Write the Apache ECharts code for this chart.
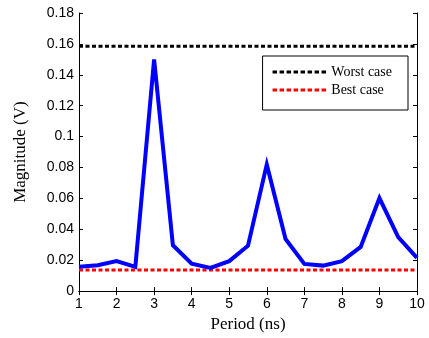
<!DOCTYPE html>
<html>
<head>
<meta charset="utf-8">
<script src="https://cdn.jsdelivr.net/npm/echarts@6/dist/echarts.min.js"></script>
<style>
  html, body { margin: 0; padding: 0; background: #fff; }
  #chart { width: 429px; height: 338px; }
</style>
</head>
<body>
<div id="chart"></div>
<script>
const periods = [1, 1.5, 2, 2.5, 3, 3.5, 4, 4.5, 5, 5.5, 6, 6.5, 7, 7.5, 8, 8.5, 9, 9.5, 10]
const magnitude = [0.0157, 0.0168, 0.0194, 0.0157, 0.150, 0.0297, 0.0178, 0.0150, 0.0194, 0.0294,
  0.082, 0.0337, 0.0176, 0.0165, 0.0194, 0.0286, 0.0602, 0.0350, 0.0215]
const boundX = [1, 10]
const worstCase = [0.1585, 0.1585]
const bestCase = [0.0137, 0.0137]
const yTicks = ['0', '0.02', '0.04', '0.06', '0.08', '0.1', '0.12', '0.14', '0.16', '0.18']

const pairs = (xs, ys) => xs.map((x, i) => [x, ys[i]])

// dashed legend icon: 8 short dashes
let dashPath = 'path://'
for (let i = 0; i < 8; i++) dashPath += `M${i * 7},0h4.5v3h-4.5z`

const chart = echarts.init(document.getElementById('chart'), null, { renderer: 'canvas' })

const tickFont = { fontFamily: 'Liberation Sans, Arial, sans-serif', fontSize: 14, color: '#000' }
const serif = 'Liberation Serif, Times New Roman, serif'
const axisLine = { show: true, lineStyle: { color: '#000', width: 1 } }
const axisTick = { show: true, inside: true, length: 4, lineStyle: { color: '#000', width: 1 } }

const option = {
  animation: false,
  grid: { left: 79, right: 12, top: 13, bottom: 46 },
  legend: {
    right: 21,
    top: 56,
    orient: 'vertical',
    data: [
      { name: 'Worst case', icon: dashPath, itemStyle: { color: '#000' } },
      { name: 'Best case', icon: dashPath, itemStyle: { color: '#ff0000' } },
    ],
    backgroundColor: '#fff',
    borderColor: '#000',
    borderWidth: 1,
    borderRadius: 0,
    padding: [9, 16, 13, 10],
    itemGap: 4,
    itemWidth: 54,
    itemHeight: 3,
    textStyle: { fontFamily: serif, fontSize: 14, color: '#000' },
    selectedMode: false,
  },
  xAxis: [
    {
      type: 'value', min: 1, max: 10, interval: 1,
      name: 'Period (ns)', nameLocation: 'middle', nameGap: 24,
      nameTextStyle: { fontFamily: serif, fontSize: 17, color: '#000' },
      axisLine, axisTick,
      axisLabel: { ...tickFont, margin: 6 },
      splitLine: { show: false },
    },
    {
      type: 'value', min: 1, max: 10, interval: 1, position: 'top',
      axisLine, axisTick, axisLabel: { show: false }, splitLine: { show: false },
    },
  ],
  yAxis: [
    {
      type: 'value', min: 0, max: 0.18, interval: 0.02,
      name: 'Magnitude (V)', nameLocation: 'middle', nameGap: 50,
      nameTextStyle: { fontFamily: serif, fontSize: 17, color: '#000' },
      axisLine, axisTick,
      axisLabel: { ...tickFont, margin: 5, formatter: (v, i) => yTicks[i] },
      splitLine: { show: false },
    },
    {
      type: 'value', min: 0, max: 0.18, interval: 0.02, position: 'right',
      axisLine, axisTick, axisLabel: { show: false }, splitLine: { show: false },
    },
  ],
  series: [
    {
      name: 'Magnitude', type: 'line', symbol: 'none',
      lineStyle: { color: '#0000ff', width: 4, join: 'miter' },
      data: pairs(periods, magnitude), z: 3,
    },
    {
      name: 'Worst case', type: 'line', symbol: 'none',
      itemStyle: { color: '#000' },
      lineStyle: { color: '#000', width: 3, type: [4, 2.5] },
      data: pairs(boundX, worstCase), z: 2,
    },
    {
      name: 'Best case', type: 'line', symbol: 'none',
      itemStyle: { color: '#ff0000' },
      lineStyle: { color: '#ff0000', width: 3, type: [4, 2.5] },
      data: pairs(boundX, bestCase), z: 2,
    },
  ],
}

chart.setOption(option)
</script>
</body>
</html>
